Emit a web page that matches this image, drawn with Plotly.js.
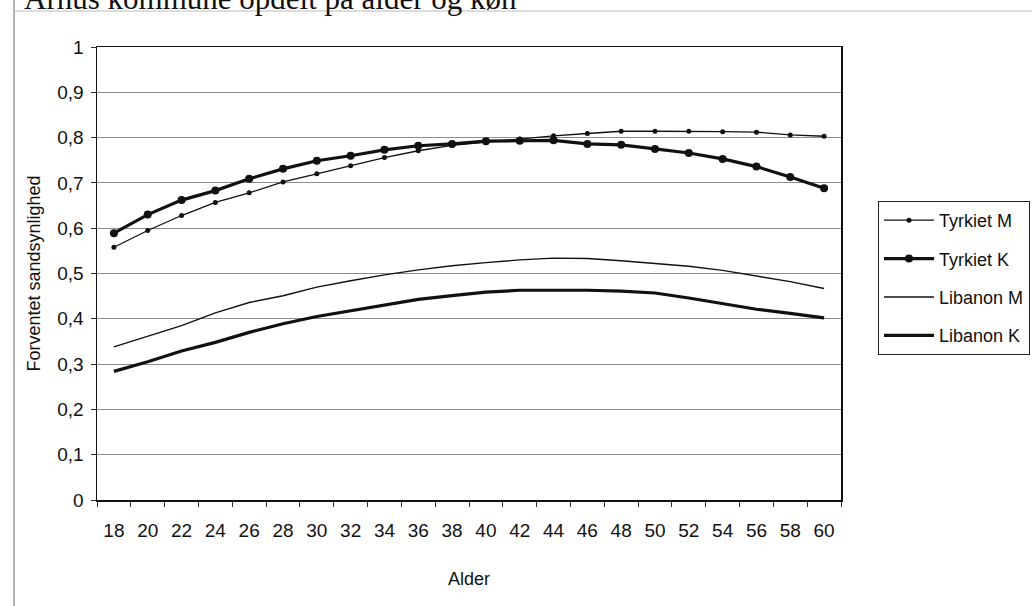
<!DOCTYPE html>
<html>
<head>
<meta charset="utf-8">
<script src="https://cdn.plot.ly/plotly-3.0.1.min.js"></script>
<style>
html,body{margin:0;padding:0;background:#fff;overflow:hidden;}
#chart{width:1032px;height:606px;}
</style>
</head>
<body>
<div id="chart"></div>
<script>
var ages = ['18','20','22','24','26','28','30','32','34','36','38','40','42','44','46','48','50','52','54','56','58','60'];
var tyrkietM = [0.558,0.595,0.628,0.657,0.678,0.702,0.720,0.738,0.756,0.771,0.783,0.790,0.797,0.804,0.809,0.814,0.814,0.814,0.813,0.812,0.806,0.803];
var tyrkietK = [0.589,0.630,0.662,0.683,0.709,0.731,0.749,0.760,0.773,0.782,0.786,0.792,0.793,0.794,0.786,0.784,0.775,0.766,0.753,0.736,0.713,0.688];
var libanonM = [0.338,0.361,0.385,0.413,0.436,0.451,0.470,0.484,0.497,0.508,0.517,0.524,0.530,0.534,0.533,0.528,0.522,0.516,0.507,0.495,0.482,0.467];
var libanonK = [0.284,0.305,0.329,0.348,0.370,0.389,0.405,0.418,0.431,0.443,0.451,0.459,0.463,0.463,0.463,0.461,0.457,0.446,0.434,0.421,0.412,0.402];
var seriesNames = ['Tyrkiet M','Tyrkiet K','Libanon M','Libanon K'];
var titleText = 'Århus kommune opdelt på alder og køn';

var traces = [
  {x: ages, y: tyrkietM, name: seriesNames[0], mode: 'lines+markers', legendgroup: 'a',
   line: {color: '#111', width: 1.3}, marker: {color: '#111', size: 5, symbol: 'circle'}},
  {x: ages, y: tyrkietK, name: seriesNames[1], mode: 'lines+markers', legendgroup: 'b',
   line: {color: '#111', width: 3.2}, marker: {color: '#111', size: 8, symbol: 'circle'}},
  {x: ages, y: libanonM, name: seriesNames[2], mode: 'lines', legendgroup: 'c',
   line: {color: '#111', width: 1.4}},
  {x: ages, y: libanonK, name: seriesNames[3], mode: 'lines', legendgroup: 'd',
   line: {color: '#111', width: 3.2}}
];

var layout = {
  width: 1032, height: 606,
  margin: {l: 97, r: 191, t: 47, b: 106, pad: 0, autoexpand: false},
  paper_bgcolor: '#fff', plot_bgcolor: '#fff',
  separators: ', ',
  font: {family: 'Arial, "Liberation Sans", sans-serif', color: '#111', size: 18},
  showlegend: true,
  legend: {xref: 'container', yref: 'container', x: 878 / 1032, xanchor: 'left', y: 1 - 201 / 606, yanchor: 'top',
           bordercolor: '#222', borderwidth: 1, bgcolor: '#fff',
           font: {size: 18, color: '#111'}, tracegroupgap: 12, itemwidth: 50},
  xaxis: {type: 'category', range: [-0.5, 21.5], ticks: 'outside', tickson: 'boundaries',
          ticklen: 5, tickcolor: '#333', showline: true, mirror: true, linecolor: '#111', linewidth: 1.5,
          showgrid: false, zeroline: false, tickfont: {size: 19, color: '#111'}, ticklabelstandoff: 13,
          title: {text: 'Alder', font: {size: 18, color: '#111'}, standoff: 32}},
  yaxis: {range: [0, 1], dtick: 0.1, tick0: 0, ticks: 'outside', ticklen: 5, tickcolor: '#333',
          showline: true, mirror: true, linecolor: '#111', linewidth: 1.5,
          showgrid: true, gridcolor: '#8c8c8c', gridwidth: 1, zeroline: false,
          tickfont: {size: 19, color: '#111'}, ticklabelstandoff: 3,
          title: {text: 'Forventet sandsynlighed', font: {size: 18, color: '#111'}, standoff: 12}},
  annotations: [
    {text: titleText, xref: 'paper', yref: 'paper', x: (22 - 97) / 744, y: (500 + 1) / 453,
     xanchor: 'left', yanchor: 'middle', showarrow: false,
     font: {family: '"Liberation Serif", "Times New Roman", serif', size: 31, color: '#111'}}
  ],
  shapes: [
    {type: 'line', xref: 'paper', yref: 'paper', x0: (14 - 97) / 744, x1: (14 - 97) / 744,
     y0: (500 - 0) / 453, y1: (500 - 606) / 453, line: {color: '#999', width: 1.5}},
    {type: 'line', xref: 'paper', yref: 'paper', x0: (14 - 97) / 744, x1: (1032 - 97) / 744,
     y0: (500 - 11) / 453, y1: (500 - 11) / 453, line: {color: '#bbb', width: 1}}
  ]
};

Plotly.newPlot('chart', traces, layout, {displayModeBar: false, staticPlot: true});
</script>
</body>
</html>
